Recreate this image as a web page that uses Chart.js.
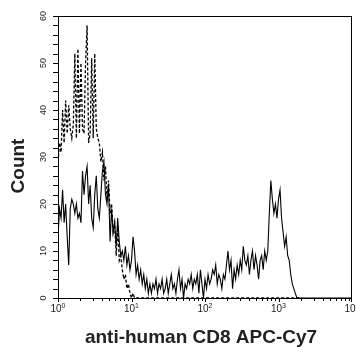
<!DOCTYPE html>
<html>
<head>
<meta charset="utf-8">
<script src="https://cdn.jsdelivr.net/npm/chart.js@4"></script>
<style>
  html, body { margin: 0; padding: 0; background: #fff; }
</style>
</head>
<body>
<canvas id="histChart" width="356" height="347"></canvas>
<script>
// histogram channels, log scale 10^0 .. 10^4
const channelsPerDecade = 48;

// anti-human CD8 APC-Cy7 (solid)
const cd8Counts = [
    13, 19, 17, 23, 16, 20, 13, 7, 19, 21, 20, 18, 20, 17, 18, 16,
    27, 22, 26, 28, 20, 24, 17, 15, 22, 26, 19, 17, 22, 27, 29, 22,
    20, 24, 12, 19, 14, 16, 11, 17, 12, 9, 10, 8, 11, 7, 9, 6,
    8, 13, 10, 5, 7, 4, 6, 3, 5, 2, 4, 1, 3, 1, 3, 2,
    4, 1, 3, 2, 4, 1, 2, 4, 1, 3, 5, 2, 3, 1, 4, 6,
    2, 4, 0, 3, 2, 4, 3, 5, 2, 4, 3, 5, 1, 6, 3, 0,
    4, 2, 5, 3, 4, 6, 5, 7, 3, 5, 4, 2, 5, 4, 7, 10,
    6, 8, 2, 6, 4, 7, 5, 8, 6, 11, 8, 7, 9, 5, 8, 10,
    6, 9, 7, 4, 8, 9, 6, 10, 8, 10, 18, 25, 21, 18, 20, 17,
    21, 23, 17, 14, 11, 13, 9, 8, 5, 3, 2, 1, 0, 0, 0, 0,
    0, 0, 0, 0, 0, 0, 0, 0, 0, 0, 0, 0, 0, 0, 0, 0,
    0, 0, 0, 0, 0, 0, 0, 0, 0, 0, 0, 0, 0, 0, 0, 0, 0
];

// isotype control (dashed)
const isoCounts = [
    29, 33, 31, 40, 33, 42, 35, 41, 36, 34, 37, 52, 34, 53, 35, 50,
    36, 35, 50, 58, 33, 35, 51, 34, 52, 36, 34, 33, 29, 31, 25, 28,
    21, 25, 18, 20, 14, 16, 9, 15, 8, 9, 6, 4, 5, 2, 3, 1,
    0, 1, 0, 0, 0, 0, 0, 0, 0, 0, 0, 0, 0, 0, 0, 0,
    0, 0, 0, 0, 0, 0, 0, 0, 0, 0, 0, 0, 0, 0, 0, 0,
    0, 0, 0, 0, 0, 0, 0, 0, 0, 0, 0, 0, 0, 0, 0, 0,
    0, 0, 0, 0, 0, 0, 0, 0, 0, 0, 0, 0, 0, 0, 0, 0,
    0, 0, 0, 0, 0, 0, 0, 0, 0, 0, 0, 0, 0, 0, 0, 0,
    0, 0, 0, 0, 0, 0, 0, 0, 0, 0, 0, 0, 0, 0, 0, 0,
    0, 0, 0, 0, 0, 0, 0, 0, 0, 0, 0, 0, 0, 0, 0, 0
];

const yTickLabels = [0, 10, 20, 30, 40, 50, 60];
const yMinorStep = 2;
const xDecades = [0, 1, 2, 3, 4];
const xTitle = 'anti-human CD8 APC-Cy7';
const yTitle = 'Count';

function toPoints(counts) {
    return counts.map((c, i) => ({ x: Math.pow(10, i / channelsPerDecade), y: c }));
}

const flowAxes = {
    id: 'flowAxes',
    afterDraw(chart) {
        const { ctx, chartArea: a, scales } = chart;
        const xs = scales.x;
        const ys = scales.y;
        ctx.save();
        ctx.strokeStyle = '#000';
        ctx.lineWidth = 1;
        ctx.strokeRect(a.left + 0.5, a.top + 0.5, a.right - a.left - 1, a.bottom - a.top);

        // y ticks
        ctx.beginPath();
        for (let v = 0; v <= 60; v += yMinorStep) {
            const py = Math.round(ys.getPixelForValue(v)) + 0.5;
            ctx.moveTo(a.left - 5, py);
            ctx.lineTo(a.left, py);
        }
        // x ticks
        for (let d = 0; d < 4; d++) {
            for (let k = 1; k <= 9; k++) {
                const px = Math.round(xs.getPixelForValue(k * Math.pow(10, d))) + 0.5;
                ctx.moveTo(px, a.bottom);
                ctx.lineTo(px, a.bottom + (k === 1 ? 4 : 3));
            }
        }
        const pEnd = Math.round(xs.getPixelForValue(10000)) - 0.5;
        ctx.moveTo(pEnd, a.bottom);
        ctx.lineTo(pEnd, a.bottom + 4);
        ctx.stroke();

        // y labels, rotated
        ctx.fillStyle = '#222';
        ctx.font = '9px "Liberation Sans", Arial, sans-serif';
        ctx.textAlign = 'center';
        ctx.textBaseline = 'middle';
        yTickLabels.forEach(v => {
            ctx.save();
            ctx.translate(44, ys.getPixelForValue(v));
            ctx.rotate(-Math.PI / 2);
            ctx.fillText(String(v), 0, 0);
            ctx.restore();
        });

        // x labels 10^n
        ctx.textAlign = 'left';
        ctx.textBaseline = 'alphabetic';
        xDecades.forEach(d => {
            const px = xs.getPixelForValue(Math.pow(10, d));
            ctx.font = '10px "Liberation Sans", Arial, sans-serif';
            const wBase = ctx.measureText('10').width;
            ctx.font = '7px "Liberation Sans", Arial, sans-serif';
            const wSup = ctx.measureText(String(d)).width;
            const x0 = px - (wBase + wSup) / 2;
            ctx.font = '10px "Liberation Sans", Arial, sans-serif';
            ctx.fillText('10', x0, 312);
            ctx.font = '7px "Liberation Sans", Arial, sans-serif';
            ctx.fillText(String(d), x0 + wBase, 308);
        });

        // titles
        ctx.fillStyle = '#222';
        ctx.font = 'bold 19px "Liberation Sans", Arial, sans-serif';
        ctx.textAlign = 'center';
        ctx.fillText(xTitle, 201, 343);
        ctx.save();
        ctx.translate(24, 166);
        ctx.rotate(-Math.PI / 2);
        ctx.fillText(yTitle, 0, 0);
        ctx.restore();
        ctx.restore();
    }
};

new Chart(document.getElementById('histChart').getContext('2d'), {
    type: 'line',
    data: {
        datasets: [
            {
                label: 'CD8',
                data: toPoints(cd8Counts),
                borderColor: '#000',
                borderWidth: 1.1,
                pointRadius: 0,
                tension: 0
            },
            {
                label: 'Isotype',
                data: toPoints(isoCounts),
                borderColor: '#000',
                borderWidth: 1.3,
                borderDash: [3, 2],
                pointRadius: 0,
                tension: 0
            }
        ]
    },
    options: {
        responsive: false,
        animation: false,
        layout: { padding: { left: 58, top: 16, right: 4, bottom: 49 } },
        scales: {
            x: { type: 'logarithmic', min: 1, max: 10000, display: false },
            y: { type: 'linear', min: 0, max: 60, display: false }
        },
        plugins: {
            legend: { display: false },
            tooltip: { enabled: false }
        }
    },
    plugins: [flowAxes]
});
</script>
</body>
</html>
